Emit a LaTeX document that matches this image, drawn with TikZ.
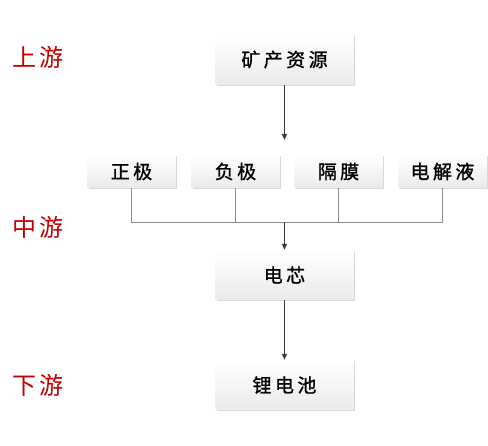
\documentclass[tikz,border=0pt]{standalone}
\usepackage{fontspec}
\setmainfont{Noto Sans CJK SC}
\newfontfamily\boxfont[LetterSpace=18,FakeBold=1.2]{Noto Sans CJK SC}
\newfontfamily\labfont[LetterSpace=10]{Noto Sans CJK SC}
\usetikzlibrary{shadows,arrows.meta}
\definecolor{labred}{RGB}{192,0,0}
\tikzstyle{b}=[draw=none,top color=white,bottom color=gray!16,drop shadow={shadow xshift=1.2pt,shadow yshift=-1.5pt,opacity=0.3},minimum width=138pt,minimum height=50pt,inner sep=0,font=\boxfont\fontsize{19}{19}\selectfont]
\tikzstyle{s}=[b,minimum width=88pt,minimum height=33pt]
\tikzstyle{l}=[text=labred,font=\labfont\fontsize{24}{24}\selectfont]
\tikzstyle{ln}=[draw=gray!90,line width=0.8pt]
\tikzstyle{arr}=[draw=black!78,line width=1.1pt,-{Triangle[length=6pt,width=5pt]}]

\begin{document}
\begin{tikzpicture}[x=1pt,y=-1pt]
                        \useasboundingbox (0,0) rectangle (488,446);

                        \node[l] (up) at (38,57) {上游};
                        \node[l] (mid) at (38,227) {中游};
                        \node[l] (down) at (38,385) {下游};

                        \node[b] (mine) at (284.5,59.5) {矿产资源};

                        \node[s] (zj) at (131.5,171.5) {正极};
                        \node[s] (fj) at (235.5,171.5) {负极};
                        \node[s] (gm) at (338.5,171.5) {隔膜};
                        \node[s] (dj) at (442.5,171.5) {电解液};

                        \node[b] (cell) at (284.5,275) {电芯};
                        \node[b] (batt) at (284.5,385) {锂电池};

                        \coordinate (t) at (284.5,140);
                        \coordinate (j) at (284.5,222);

                        \draw[arr] (mine) -- (t);

                        \draw[ln]
                        (zj.south) |- (j)
                        (j) -| (dj.south)
                        (fj.south) -- (fj.south |- j)
                        (gm.south) -- (gm.south |- j)
                        ;

                        \draw[arr] (j) -- (cell);
                        \draw[arr] (cell) -- (batt);

\end{tikzpicture}
\end{document}
